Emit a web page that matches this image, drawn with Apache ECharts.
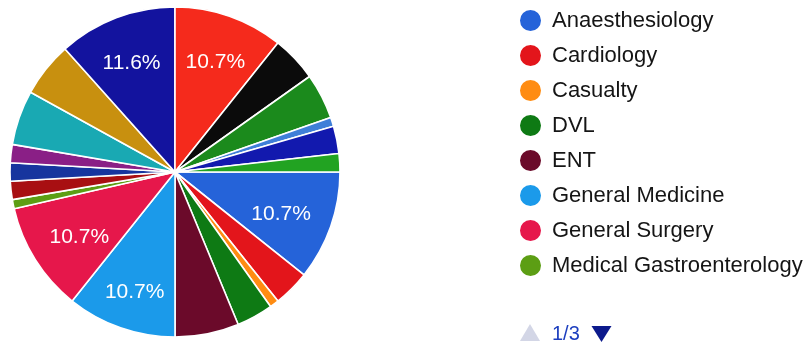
<!DOCTYPE html>
<html>
<head>
<meta charset="utf-8">
<script src="https://cdn.jsdelivr.net/npm/echarts@6/dist/echarts.min.js"></script>
<style>
html,body{margin:0;padding:0;background:#fff;}
#chart{width:809px;height:345px;}
</style>
</head>
<body>
<div id="chart"></div>
<script>
// Departments (legend page 1 shows the first 8)
const departments = [
  'Anaesthesiology', 'Cardiology', 'Casualty', 'DVL', 'ENT',
  'General Medicine', 'General Surgery', 'Medical Gastroenterology',
  'Medical Oncology', 'Nephrology', 'Neurology', 'Neurosurgery',
  'Obstetrics & Gynaecology', 'Ophthalmology', 'Orthopaedics', 'Paediatrics',
  'Psychiatry', 'Pulmonology', 'Radiology', 'Urology'
];
const counts = [12, 4, 1, 4, 7, 12, 12, 1, 2, 2, 2, 6, 6, 13, 12, 5, 5, 1, 3, 2];
const sliceColors = [
  '#2563d9', '#e3151b', '#ff8c12', '#0e7a14', '#6b0a2a',
  '#1b9aea', '#e6174b', '#5c9e14', '#a80f12', '#17359e',
  '#8a1f86', '#19a9b3', '#c8900f', '#13139e', '#f52a1c',
  '#0b0b0b', '#1b8a1c', '#3f7fd8', '#1219ae', '#22a322'
];
const labelColors = {'Cardiology': '#ffbb77'};
const legendPageSize = 8;
const pageText = '1/3';

const FONT = '"Liberation Sans", Arial, Helvetica, sans-serif';
const R = 165;
const CX = 175, CY = 172;
const LABEL_FONT = 21;
const LABEL_CORNER = 144; // farthest corner of a label box from the centre
const LABEL_DROP = 5;     // small downward nudge of the slice texts

const total = counts.reduce((a, b) => a + b, 0);
const midAngles = [];
{
  let cum = 0;
  counts.forEach(v => { midAngles.push((cum + v / 2) / total * 2 * Math.PI); cum += v; });
}

const pieData = departments.map((n, i) => ({
  name: n, value: counts[i],
  itemStyle: {color: sliceColors[i]},
  label: {color: labelColors[n] || '#ffffff'}
}));

const chart = echarts.init(document.getElementById('chart'), null, {renderer: 'canvas'});
chart.setOption({
  animation: false,
  backgroundColor: '#ffffff',
  legend: {
    type: 'plain',
    orient: 'vertical',
    left: 518,
    top: 8,
    padding: 0,
    icon: 'circle',
    itemWidth: 23,
    itemHeight: 23,
    itemGap: 10,
    data: departments.slice(0, legendPageSize),
    textStyle: {fontFamily: FONT, fontSize: 22, color: '#151515', padding: [0, 0, 0, 5]}
  },
  graphic: [
    {type: 'polygon', shape: {points: [[530, 324], [520, 341], [540, 341]]}, style: {fill: '#d3d6e6'}},
    {type: 'text', left: 552, top: 324, style: {text: pageText, fontFamily: FONT, fontSize: 20, fill: '#1d3fbf'}},
    {type: 'polygon', shape: {points: [[591.5, 326], [611.5, 326], [601.5, 342]]}, style: {fill: '#0c1a8c'}}
  ],
  series: [
    {
      type: 'pie',
      center: [CX, CY],
      radius: [0, R],
      startAngle: 0,
      clockwise: true,
      silent: true,
      percentPrecision: 1,
      itemStyle: {borderColor: '#ffffff', borderWidth: 1.6},
      labelLine: {show: false},
      label: {
        show: true,
        position: 'inside',
        fontFamily: FONT,
        fontSize: LABEL_FONT,
        color: '#ffffff',
        formatter: p => (p.percent >= 10 ? p.percent + '%' : '')
      },
      labelLayout: function (params) {
        const a = midAngles[params.dataIndex];
        const ux = Math.cos(a), uy = Math.sin(a);
        const hw = params.labelRect.width / 2, hh = LABEL_FONT / 2;
        const dot = Math.abs(ux) * hw + Math.abs(uy) * hh;
        const c = hw * hw + hh * hh - LABEL_CORNER * LABEL_CORNER;
        const d = (-2 * dot + Math.sqrt(4 * dot * dot - 4 * c)) / 2;
        return {x: CX + d * ux, y: CY + d * uy + LABEL_DROP};
      },
      data: pieData
    }
  ]
});
</script>
</body>
</html>
